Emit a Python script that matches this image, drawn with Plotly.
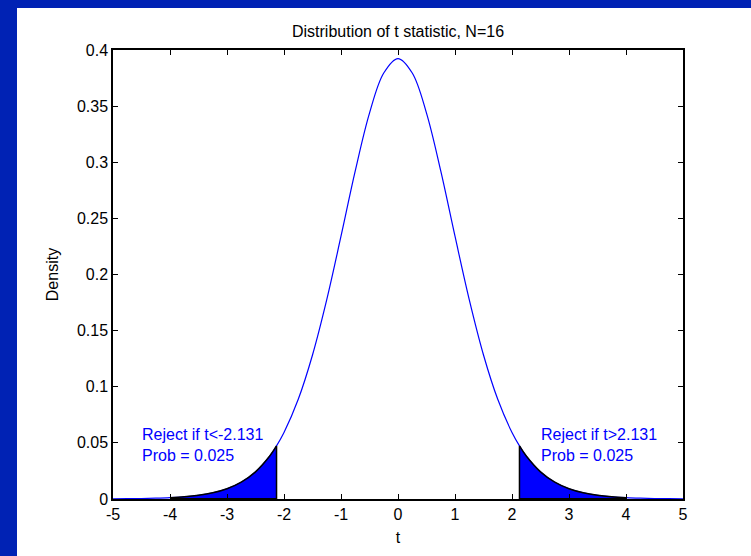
import plotly.graph_objects as go

# t grid and t(15) density values
t_vals = [-5.0, -4.75, -4.5, -4.25, -4.0, -3.75, -3.5, -3.25, -3.0, -2.75, -2.5, -2.25, -2.131, -2.0,
          -1.75, -1.5, -1.25, -1.0, -0.75, -0.5, -0.25, 0.0, 0.25, 0.5, 0.75, 1.0, 1.25, 1.5, 1.75,
          2.0, 2.131, 2.25, 2.5, 2.75, 3.0, 3.25, 3.5, 3.75, 4.0, 4.25, 4.5, 4.75, 5.0]
density = [0.000153, 0.000253, 0.000422, 0.000705, 0.00118, 0.00198, 0.00331, 0.00552, 0.00913, 0.0150,
           0.0242, 0.0383, 0.0473, 0.0592, 0.0888, 0.1283, 0.1776, 0.2341, 0.2923, 0.3438, 0.3795, 0.3924,
           0.3795, 0.3438, 0.2923, 0.2341, 0.1776, 0.1283, 0.0888, 0.0592, 0.0473, 0.0383, 0.0242, 0.0150,
           0.00913, 0.00552, 0.00331, 0.00198, 0.00118, 0.000705, 0.000422, 0.000253, 0.000153]
crit = 2.131
tail_end = 4.0
x_ticks = [-5, -4, -3, -2, -1, 0, 1, 2, 3, 4, 5]
left_label = ["Reject if t<-2.131", "Prob = 0.025"]
right_label = ["Reject if t>2.131", "Prob = 0.025"]

FONT = "Liberation Sans, Arial, Helvetica, sans-serif"
FS = 16
BLUE = "#0000FF"

fig = go.Figure()
fig.add_trace(go.Scatter(x=t_vals, y=density, mode="lines",
                         line=dict(color=BLUE, width=1.2, shape="spline"), hoverinfo="skip"))

lx = [x for x in t_vals if -tail_end <= x <= -crit]
ly = [y for x, y in zip(t_vals, density) if -tail_end <= x <= -crit]
rx = [x for x in t_vals if crit <= x <= tail_end]
ry = [y for x, y in zip(t_vals, density) if crit <= x <= tail_end]

for xs, ys in ((lx, ly), (rx, ry)):
    fig.add_trace(go.Scatter(x=xs, y=ys, mode="lines", fill="tozeroy", fillcolor=BLUE,
                             line=dict(color="black", width=1.5, shape="spline"), hoverinfo="skip"))
fig.add_trace(go.Scatter(x=[-crit, -crit, None, crit, crit],
                         y=[0, ly[-1], None, 0, ry[0]], mode="lines",
                         line=dict(color="black", width=1.5), hoverinfo="skip"))
fig.add_trace(go.Scatter(x=[-tail_end, -crit, None, crit, tail_end], y=[0, 0, None, 0, 0], mode="lines",
                         line=dict(color="black", width=2), hoverinfo="skip"))

fig.add_annotation(x=-4.52, y=0.048, xref="x", yref="y", text="<br>".join(left_label),
                   showarrow=False, xanchor="left", yanchor="middle", align="left",
                   font=dict(family=FONT, size=FS, color=BLUE))
fig.add_annotation(x=2.48, y=0.048, xref="x", yref="y", text="<br>".join(right_label),
                   showarrow=False, xanchor="left", yanchor="middle", align="left",
                   font=dict(family=FONT, size=FS, color=BLUE))

axis_common = dict(showline=True, linecolor="black", linewidth=1.5, mirror="ticks",
                   ticks="inside", ticklen=5, tickcolor="black", tickwidth=1,
                   showgrid=False, zeroline=False,
                   tickfont=dict(family=FONT, size=FS, color="black"))

fig.update_xaxes(range=[-5, 5], tickvals=x_ticks, ticktext=[str(v) for v in x_ticks],
                 title=dict(text="t", font=dict(family=FONT, size=FS, color="black"), standoff=10),
                 **axis_common)
fig.update_yaxes(range=[0, 0.4], dtick=0.05, tick0=0,
                 title=dict(text="Density", font=dict(family=FONT, size=FS, color="black"), standoff=14),
                 **axis_common)

fig.update_layout(
    width=751, height=556,
    margin=dict(l=113, r=68, t=50, b=57),
    paper_bgcolor="white", plot_bgcolor="white",
    showlegend=False,
    title=dict(text="Distribution of t statistic, N=16", x=0.53, xanchor="center",
               y=1 - 31 / 556, yanchor="middle",
               font=dict(family=FONT, size=FS, color="black")),
    shapes=[
        dict(type="rect", xref="paper", yref="paper", x0=-0.25, x1=1.25,
             y0=(499 - 8) / 449, y1=1.2, fillcolor="#0022B4", line=dict(width=0), layer="above"),
        dict(type="rect", xref="paper", yref="paper", x0=-0.25, x1=(17 - 113) / 570,
             y0=-0.2, y1=1.2, fillcolor="#0022B4", line=dict(width=0), layer="above"),
    ],
)

fig.write_html("out.html")
